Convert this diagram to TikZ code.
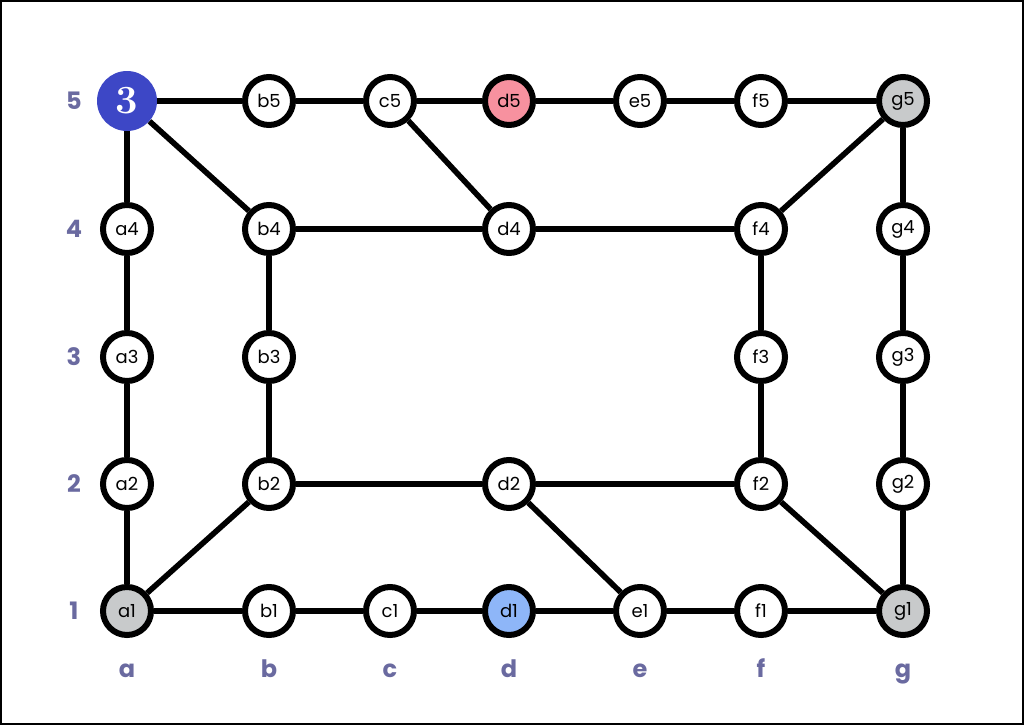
\documentclass[tikz,border=0pt]{standalone}
\usepackage{fontspec}
\newfontfamily\poppins{Poppins}
\definecolor{lblcol}{HTML}{6A6AA0}
\definecolor{startcol}{HTML}{3D47C6}
\definecolor{pinkcol}{HTML}{F7919F}
\definecolor{skycol}{HTML}{8EB6F8}
\definecolor{greycol}{HTML}{C8CACB}

\begin{document}
\begin{tikzpicture}[x=0.75pt,y=0.75pt,yscale=-1,xscale=1,
  vtx/.style={circle,draw=black,line width=4.5pt,fill=white,minimum size=36pt,inner sep=0pt,font=\poppins\fontsize{13.5}{15}\selectfont},
  edge/.style={line width=4.2pt},
  lbl/.style={text=lblcol,inner sep=0pt,font=\poppins\bfseries\fontsize{18}{20}\selectfont}]
\useasboundingbox (0,0) rectangle (1024,725);
%Frame
\draw [line width=1.5pt] (1,1) rectangle (1023,724);

% Row 5
\node [circle,fill=startcol,minimum size=45pt,inner sep=0pt,text=white,font=\bfseries\fontsize{30}{32}\selectfont] (a5) at (127,101) {3};
\node [vtx] (b5) at (269,101) {b5};
\node [vtx] (c5) at (390,101) {c5};
\node [vtx,fill=pinkcol] (d5) at (509,101) {d5};
\node [vtx] (e5) at (640,101) {e5};
\node [vtx] (f5) at (761,101) {f5};
\node [vtx,fill=greycol] (g5) at (903,101) {g5};
% Row 4
\node [vtx] (a4) at (127,229) {a4};
\node [vtx] (b4) at (269,229) {b4};
\node [vtx] (d4) at (509,229) {d4};
\node [vtx] (f4) at (761,229) {f4};
\node [vtx] (g4) at (903,229) {g4};
% Row 3
\node [vtx] (a3) at (127,357) {a3};
\node [vtx] (b3) at (269,357) {b3};
\node [vtx] (f3) at (761,357) {f3};
\node [vtx] (g3) at (903,357) {g3};
% Row 2
\node [vtx] (a2) at (127,484) {a2};
\node [vtx] (b2) at (269,484) {b2};
\node [vtx] (d2) at (509,484) {d2};
\node [vtx] (f2) at (761,484) {f2};
\node [vtx] (g2) at (903,484) {g2};
% Row 1
\node [vtx,fill=greycol] (a1) at (127,611) {a1};
\node [vtx] (b1) at (269,611) {b1};
\node [vtx] (c1) at (390,611) {c1};
\node [vtx,fill=skycol] (d1) at (509,611) {d1};
\node [vtx] (e1) at (640,611) {e1};
\node [vtx] (f1) at (761,611) {f1};
\node [vtx,fill=greycol] (g1) at (903,611) {g1};

%Straight Lines
\draw [edge] (a5) -- (b5) (b5) -- (c5) (c5) -- (d5) (d5) -- (e5) (e5) -- (f5) (f5) -- (g5);
\draw [edge] (a5) -- (a4) (a4) -- (a3) (a3) -- (a2) (a2) -- (a1);
\draw [edge] (a5) -- (b4) (c5) -- (d4) (g5) -- (f4);
\draw [edge] (g5) -- (g4) (g4) -- (g3) (g3) -- (g2) (g2) -- (g1);
\draw [edge] (b4) -- (d4) (d4) -- (f4);
\draw [edge] (b4) -- (b3) (b3) -- (b2);
\draw [edge] (f4) -- (f3) (f3) -- (f2);
\draw [edge] (b2) -- (d2) (d2) -- (f2);
\draw [edge] (a1) -- (b2) (d2) -- (e1) (f2) -- (g1);
\draw [edge] (a1) -- (b1) (b1) -- (c1) (c1) -- (d1) (d1) -- (e1) (e1) -- (f1) (f1) -- (g1);

% Text Node
\node [lbl] (r5) at (74,101) {5};
\node [lbl] (r4) at (74,229) {4};
\node [lbl] (r3) at (74,357) {3};
\node [lbl] (r2) at (74,484) {2};
\node [lbl] (r1) at (74,611) {1};
% Text Node
\node [lbl,anchor=base] (ca) at (127,677) {a};
\node [lbl,anchor=base] (cb) at (269,677) {b};
\node [lbl,anchor=base] (cc) at (390,677) {c};
\node [lbl,anchor=base] (cd) at (509,677) {d};
\node [lbl,anchor=base] (ce) at (640,677) {e};
\node [lbl,anchor=base] (cf) at (761,677) {f};
\node [lbl,anchor=base] (cg) at (903,677) {g};

\end{tikzpicture}
\end{document}
